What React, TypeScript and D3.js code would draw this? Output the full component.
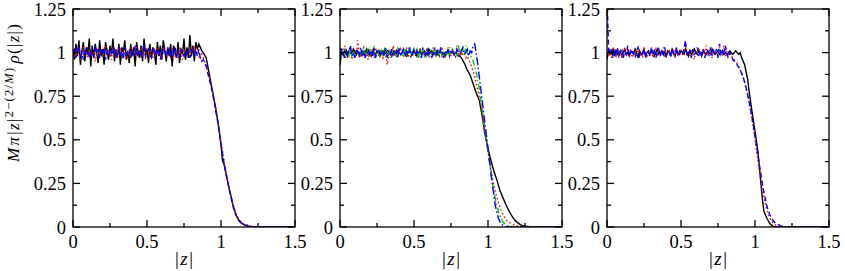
import React from "react";
import * as d3 from "d3";

// tick values
const xMajor = [0, 0.5, 1, 1.5];
const xMinor = [0.25, 0.75, 1.25];
const yMajor = [0, 0.25, 0.5, 0.75, 1, 1.25];
const yMinor = [0.125, 0.375, 0.625, 0.875, 1.125];
const xTickLabels = ["0", "0.5", "1", "1.5"];
const yTickLabels = ["0", "0.25", "0.5", "0.75", "1", "1.25"];

// plateau samples (x = 0, 0.01, 0.02, ...) followed by the drop as [x, y]
const p1BlackPlateau = [1.02,0.96,1.05,0.98,1.07,0.93,1.01,1.06,0.95,1.03,0.99,1.08,0.92,1.04,0.97,1.05,1.00,0.94,1.07,0.98,1.02,0.93,1.06,1.01,0.96,1.04,0.99,1.08,0.95,1.02,0.97,1.05,0.93,1.03,1.00,1.07,0.96,1.01,0.94,1.05,0.98,1.03,0.92,1.06,1.00,0.97,1.04,0.95,1.08,0.99,1.02,0.94,1.05,0.97,1.03,1.00,0.93,1.06,0.98,1.04,0.96,1.07,1.01,0.95,1.03,0.98,1.05,0.92,1.04,1.00,0.97,1.06,0.94,1.02,0.99,1.08,0.96,1.03,0.97,1.10,0.98,1.04,0.95,1.06,1.02,1.05,1.03,1.01];
const p1BlackDrop = [[0.88,1.0],[0.9,0.97],[0.92,0.88],[0.94,0.79],[0.96,0.7],[0.98,0.6],[1.0,0.47],[1.01,0.38],[1.02,0.36],[1.04,0.28],[1.06,0.2],[1.07,0.17],[1.08,0.13],[1.1,0.07],[1.12,0.04],[1.15,0.015],[1.18,0.005],[1.22,0],[1.5,0]];
const p1RedPlateau = [1.01,0.97,1.03,0.99,1.02,0.96,1.00,1.04,0.98,1.01,0.97,1.03,1.00,0.98,1.02,0.95,1.01,1.03,0.99,1.00,0.97,1.02,1.04,0.98,1.00,1.01,0.96,1.03,0.99,1.02,0.98,1.00,1.03,0.97,1.01,0.99,1.02,0.96,1.00,1.03,0.98,1.01,0.99,1.04,0.97,1.00,1.02,0.98,1.01,0.96,1.03,0.99,1.00,1.02,0.97,1.01,0.99,1.03,0.98,1.00,0.96,1.02,1.01,0.98,1.03,0.99,0.97,1.02,1.00,0.98,1.01,0.97,1.03,0.99,0.96,1.02,1.00,0.98,1.01,0.97,1.03,1.00,1.04,0.99,1.02,0.98,0.96,0.99];
const p1RedDrop = [[0.88,0.97],[0.9,0.93],[0.92,0.86],[0.94,0.78],[0.96,0.71],[0.98,0.6],[1.0,0.49],[1.02,0.38],[1.04,0.29],[1.06,0.21],[1.08,0.13],[1.1,0.08],[1.12,0.045],[1.15,0.02],[1.2,0.005],[1.25,0],[1.5,0]];
const p1BluePlateau = [0.99,1.03,0.97,1.01,1.04,0.98,1.00,0.96,1.02,0.99,1.03,0.97,1.01,1.00,0.98,1.04,0.99,1.02,0.97,1.01,0.99,1.03,0.96,1.00,1.02,0.98,1.01,0.99,1.03,0.97,1.00,1.02,0.98,1.01,0.96,1.03,0.99,1.00,1.02,0.97,1.01,0.99,1.04,0.98,1.00,1.02,0.97,1.01,1.05,0.98,1.00,1.02,0.99,0.97,1.01,1.03,0.98,1.00,1.02,0.96,1.01,0.99,1.03,0.98,1.00,1.02,0.97,1.01,0.99,1.03,0.98,1.00,0.97,1.02,1.00,0.98,1.01,0.99,1.02,0.97,1.00,1.03,0.99,1.01,0.98,1.02,0.97,0.95];
const p1BlueDrop = [[0.88,0.96],[0.9,0.92],[0.92,0.85],[0.94,0.78],[0.96,0.69],[0.98,0.59],[1.0,0.48],[1.02,0.37],[1.04,0.28],[1.06,0.2],[1.08,0.12],[1.1,0.07],[1.12,0.035],[1.15,0.012],[1.2,0.003],[1.25,0],[1.5,0]];

const p2BlackPlateau = [0.93,1.00,0.99,1.01,1.00,0.98,1.01,1.00,0.99,1.02,1.00,0.99,1.01,0.98,1.00,1.01,0.99,1.00,1.02,0.99,1.00,0.98,1.01,1.00,0.99,1.01,1.00,0.98,1.00,1.01,0.99,1.00,1.01,0.99,1.00,0.98,1.01,1.00,0.99,1.01,1.00,0.99,1.00,1.01,0.99,0.98,1.00,1.01,1.00,0.99,1.01,1.00,0.98,1.00,1.01,0.99,1.00,1.01,1.00,0.99,1.02,1.00,1.01,0.99,1.00,1.01,0.99,1.00,1.01,0.99,1.00,0.98,1.00,1.01,0.99,1.00,1.01,0.99,1.00,0.99,0.98,0.98];
const p2BlackDrop = [[0.82,0.97],[0.84,0.94],[0.86,0.9],[0.88,0.87],[0.9,0.82],[0.92,0.77],[0.94,0.73],[0.96,0.64],[0.98,0.53],[1.0,0.45],[1.02,0.38],[1.04,0.32],[1.06,0.27],[1.08,0.21],[1.1,0.17],[1.12,0.13],[1.14,0.095],[1.16,0.065],[1.18,0.04],[1.2,0.025],[1.22,0.012],[1.25,0.004],[1.3,0],[1.5,0]];
const p2RedPlateau = [0.96,1.02,0.98,1.04,0.97,1.01,0.99,1.03,0.96,1.00,1.02,0.98,1.07,0.99,0.97,1.01,1.03,0.98,1.00,0.96,1.02,0.99,1.01,0.97,1.03,1.00,0.98,1.02,0.99,0.97,1.01,0.99,0.93,1.00,1.02,0.98,1.04,0.99,1.01,0.97,1.00,1.02,0.98,1.01,0.99,1.03,0.97,1.00,1.01,0.98,1.02,0.99,1.00,0.97,1.03,0.99,1.01,0.98,1.00,1.02,0.97,1.01,0.99,1.03,0.98,1.00,1.01,0.97,0.99,1.02,1.00,0.98,1.01,0.99,1.03,0.98,1.00,0.99,0.98,1.04,0.99,1.01,0.98,1.00,0.99,0.97,0.98];
const p2RedDrop = [[0.87,0.96],[0.89,0.92],[0.91,0.86],[0.93,0.79],[0.95,0.71],[0.97,0.6],[0.99,0.49],[1.01,0.38],[1.03,0.28],[1.05,0.2],[1.07,0.14],[1.09,0.09],[1.11,0.06],[1.13,0.035],[1.16,0.018],[1.2,0.006],[1.25,0.002],[1.3,0],[1.5,0]];
const p2GreenPlateau = [1.03,0.98,1.01,0.97,1.02,1.00,0.98,1.03,0.99,1.01,0.97,1.02,1.00,0.98,1.01,0.99,1.03,0.97,1.00,1.02,0.98,1.01,0.99,1.04,0.98,1.00,1.02,0.97,1.01,0.99,1.03,0.98,1.00,1.01,0.97,1.02,0.99,1.00,0.98,1.03,1.00,0.99,1.01,0.97,1.02,0.99,1.00,1.03,0.98,1.01,0.99,1.00,1.02,0.97,1.01,0.99,1.03,0.98,1.00,1.01,0.98,1.02,0.99,1.00,1.03,0.97,1.01,0.99,1.02,0.98,1.00,1.01,0.99,1.03,0.98,1.00,1.02,0.99,1.01,0.98,1.04,0.99,1.00,1.02,0.98,1.04,1.00,0.99,0.98,0.97];
const p2GreenDrop = [[0.9,0.95],[0.92,0.89],[0.94,0.8],[0.96,0.68],[0.98,0.55],[1.0,0.43],[1.02,0.31],[1.04,0.2],[1.06,0.12],[1.08,0.065],[1.1,0.03],[1.12,0.012],[1.15,0.003],[1.2,0],[1.5,0]];
const p2BluePlateau = [0.98,1.03,1.00,0.97,1.02,0.99,1.01,1.04,0.98,1.00,0.97,1.02,1.00,0.99,1.03,0.98,1.01,0.97,1.00,1.02,0.99,1.01,0.98,1.03,0.97,1.00,1.02,0.99,1.01,0.98,1.00,1.03,0.97,1.01,0.99,1.02,0.98,1.00,1.01,0.97,1.03,0.99,1.00,1.02,0.98,1.01,0.99,1.03,0.97,1.00,1.02,0.98,1.01,0.99,1.00,0.97,1.02,1.00,0.98,1.03,0.99,1.01,0.97,1.00,1.02,0.99,1.01,0.98,1.03,1.00,0.97,1.01,0.99,1.02,0.98,1.00,1.01,0.99,0.97,1.02,1.00,0.98,1.01,1.03,0.99,1.00,1.02,0.98,1.01,1.00,1.04,1.05,1.0];
const p2BlueDrop = [[0.93,0.94],[0.95,0.8],[0.97,0.66],[0.99,0.52],[1.01,0.38],[1.03,0.24],[1.05,0.12],[1.07,0.05],[1.09,0.015],[1.12,0.003],[1.15,0],[1.5,0]];

const p3BlackPlateau = [0.96,1.01,0.99,1.00,1.02,0.98,1.01,0.99,1.00,1.01,0.98,1.00,1.02,0.99,1.00,0.98,1.01,1.00,0.99,1.02,1.00,0.97,1.01,0.99,1.00,1.02,0.98,1.00,1.01,0.99,1.00,1.01,0.98,1.00,1.02,0.99,1.00,1.01,0.99,1.00,0.98,1.01,1.00,0.99,1.02,1.00,0.98,1.01,1.00,0.99,1.01,1.00,0.99,1.02,1.00,0.98,1.01,0.99,1.00,1.02,1.00,0.99,1.01,1.00,0.98,1.01,1.00,0.99,1.01,1.00,0.99,1.02,1.00,0.99,1.00,1.01,0.99,1.00,1.01,0.99,1.00,0.99,1.00,1.01,1.00,0.99,1.00,1.01,1.00,0.99];
const p3BlackDrop = [[0.9,1.0],[0.91,0.97],[0.93,0.93],[0.95,0.85],[0.96,0.78],[0.98,0.66],[1.0,0.55],[1.02,0.43],[1.04,0.25],[1.05,0.16],[1.06,0.09],[1.08,0.05],[1.1,0.02],[1.12,0.005],[1.14,0],[1.5,0]];
const p3RedPlateau = [1.02,0.99,1.01,0.97,1.03,1.00,0.98,1.02,0.99,1.01,0.97,1.00,1.03,0.98,1.01,0.99,1.02,0.97,1.00,1.01,0.98,1.03,0.99,1.00,0.97,1.02,1.00,0.98,1.01,0.99,1.03,0.97,1.00,1.02,0.98,1.01,0.99,1.00,1.03,0.97,1.01,0.99,1.02,0.98,1.00,1.01,0.97,1.03,0.99,1.00,1.02,0.98,1.01,1.05,0.99,1.00,0.98,1.02,0.99,0.96,1.01,1.00,1.03,0.98,1.00,1.02,0.99,1.04,0.98,1.01,1.00,0.97,1.02,0.99,1.01,0.98,1.03,1.00,0.99,1.04,0.98,1.01,0.99,1.00,0.98,0.97,0.96];
const p3RedDrop = [[0.87,0.95],[0.89,0.92],[0.91,0.88],[0.93,0.83],[0.95,0.76],[0.97,0.66],[0.99,0.56],[1.01,0.44],[1.03,0.32],[1.05,0.21],[1.07,0.13],[1.09,0.07],[1.11,0.035],[1.13,0.015],[1.16,0.004],[1.2,0],[1.5,0]];
const p3BluePlateau = [1.35,1.03,0.99,1.02,0.97,1.01,0.99,1.03,0.98,1.00,1.02,0.97,1.01,0.99,1.04,0.98,1.00,1.02,0.99,0.97,1.01,1.03,0.98,1.00,0.99,1.02,0.97,1.01,1.00,0.98,1.03,0.99,1.01,0.97,1.00,1.02,0.98,1.01,0.99,1.03,0.98,1.00,1.01,0.97,1.02,0.99,1.00,1.03,0.98,1.01,1.00,0.99,1.02,1.07,0.98,1.00,1.01,0.97,1.02,0.99,1.00,1.03,0.98,1.01,0.99,1.02,0.97,1.00,1.01,0.99,1.03,0.98,1.01,0.99,1.02,0.97,1.05,0.99,1.01,0.98,1.04,0.99,0.97,1.00,0.98,0.96];
const p3BlueDrop = [[0.86,0.95],[0.88,0.93],[0.9,0.9],[0.92,0.86],[0.94,0.8],[0.96,0.72],[0.98,0.63],[1.0,0.52],[1.02,0.41],[1.04,0.3],[1.06,0.2],[1.08,0.12],[1.1,0.07],[1.12,0.04],[1.14,0.02],[1.17,0.008],[1.2,0.002],[1.23,0],[1.5,0]];

const BLACK = { stroke: "#000000", dash: "" };
const RED = { stroke: "#ff0000", dash: "1.5,2.5" };
const BLUE_DASH = { stroke: "#0000ff", dash: "5,3" };
const GREEN_DD = { stroke: "#00cc00", dash: "6,2.5,1.5,2.5" };
const BLUE_DD = { stroke: "#0000ff", dash: "8,2.5,1.5,2.5" };

const series = (plateau: number[], drop: number[][]) =>
  plateau.map((y, i) => [i * 0.01, y]).concat(drop);

const panels = [
  {
    left: 73,
    lines: [
      { style: BLACK, pts: series(p1BlackPlateau, p1BlackDrop) },
      { style: RED, pts: series(p1RedPlateau, p1RedDrop) },
      { style: BLUE_DASH, pts: series(p1BluePlateau, p1BlueDrop) },
    ],
  },
  {
    left: 340,
    lines: [
      { style: BLACK, pts: series(p2BlackPlateau, p2BlackDrop) },
      { style: RED, pts: series(p2RedPlateau, p2RedDrop) },
      { style: GREEN_DD, pts: series(p2GreenPlateau, p2GreenDrop) },
      { style: BLUE_DD, pts: series(p2BluePlateau, p2BlueDrop) },
    ],
  },
  {
    left: 607,
    lines: [
      { style: BLACK, pts: series(p3BlackPlateau, p3BlackDrop) },
      { style: RED, pts: series(p3RedPlateau, p3RedDrop) },
      { style: BLUE_DASH, pts: series(p3BluePlateau, p3BlueDrop) },
    ],
  },
];

const plotW = 222;
const top = 9;
const bottom = 227;
const serif = { fontFamily: "Liberation Serif" };

const Panel: React.FC<{ idx: number; left: number; lines: any[] }> = ({ idx, left, lines }) => {
  const x = d3.scaleLinear().domain([0, 1.5]).range([left, left + plotW]);
  const y = d3.scaleLinear().domain([0, 1.25]).range([bottom, top]);
  const line = d3
    .line<number[]>()
    .x((d) => x(d[0]))
    .y((d) => y(d[1]));
  const major = 7;
  const minor = 4;
  const r = left + plotW;
  return (
    <g>
      <defs>
        <clipPath id={`clip${idx}`}>
          <rect x={left} y={top} width={plotW} height={bottom - top} />
        </clipPath>
      </defs>
      <g clipPath={`url(#clip${idx})`}>
        {lines.map((l, i) => (
          <path
            key={i}
            d={line(l.pts) || ""}
            fill="none"
            stroke={l.style.stroke}
            strokeWidth={1.4}
            strokeDasharray={l.style.dash || undefined}
          />
        ))}
      </g>
      <rect x={left} y={top} width={plotW} height={bottom - top} fill="none" stroke="#000" strokeWidth={1.3} />
      {xMajor.map((v) => (
        <g key={`xm${v}`}>
          <line x1={x(v)} x2={x(v)} y1={bottom} y2={bottom - major} stroke="#000" strokeWidth={1.3} />
          <line x1={x(v)} x2={x(v)} y1={top} y2={top + major} stroke="#000" strokeWidth={1.3} />
        </g>
      ))}
      {xMinor.map((v) => (
        <g key={`xn${v}`}>
          <line x1={x(v)} x2={x(v)} y1={bottom} y2={bottom - minor} stroke="#000" strokeWidth={1.3} />
          <line x1={x(v)} x2={x(v)} y1={top} y2={top + minor} stroke="#000" strokeWidth={1.3} />
        </g>
      ))}
      {yMajor.map((v) => (
        <g key={`ym${v}`}>
          <line x1={left} x2={left + major} y1={y(v)} y2={y(v)} stroke="#000" strokeWidth={1.3} />
          <line x1={r} x2={r - major} y1={y(v)} y2={y(v)} stroke="#000" strokeWidth={1.3} />
        </g>
      ))}
      {yMinor.map((v) => (
        <g key={`yn${v}`}>
          <line x1={left} x2={left + minor} y1={y(v)} y2={y(v)} stroke="#000" strokeWidth={1.3} />
          <line x1={r} x2={r - minor} y1={y(v)} y2={y(v)} stroke="#000" strokeWidth={1.3} />
        </g>
      ))}
      {xMajor.map((v, i) => (
        <text key={`xl${v}`} x={x(v)} y={248} textAnchor="middle" fontSize={18.5} style={serif}>
          {xTickLabels[i]}
        </text>
      ))}
      {yMajor.map((v, i) => (
        <text key={`yl${v}`} x={left - 7} y={y(v) + 6.5} textAnchor="end" fontSize={18.5} style={serif}>
          {yTickLabels[i]}
        </text>
      ))}
      <text x={left + plotW / 2} y={265} textAnchor="middle" fontSize={19} style={serif}>
        |<tspan fontStyle="italic" dx={1.5}>z</tspan>
        <tspan dx={1.5}>|</tspan>
      </text>
    </g>
  );
};

export default function App() {
  return (
    <svg
      width={845}
      height={271}
      style={{ position: "absolute", left: 0, top: 0, background: "#fff" }}
    >
      {panels.map((p, i) => (
        <Panel key={i} idx={i} left={p.left} lines={p.lines} />
      ))}
      <text
        transform="translate(18.5,162) rotate(-90)"
        fontSize={17}
        letterSpacing={1.3}
        style={serif}
      >
        <tspan fontStyle="italic">M</tspan>
        <tspan fontStyle="italic" dx={1}>π</tspan>
        <tspan dx={1}>|</tspan>
        <tspan fontStyle="italic">z</tspan>|
        <tspan dy={-6} fontSize={12.5}>
          2−(2/<tspan fontStyle="italic">M</tspan>)
        </tspan>
        <tspan dy={6} dx={3} fontStyle="italic">ρ</tspan>(|<tspan fontStyle="italic">z</tspan>|)
      </text>
    </svg>
  );
}
